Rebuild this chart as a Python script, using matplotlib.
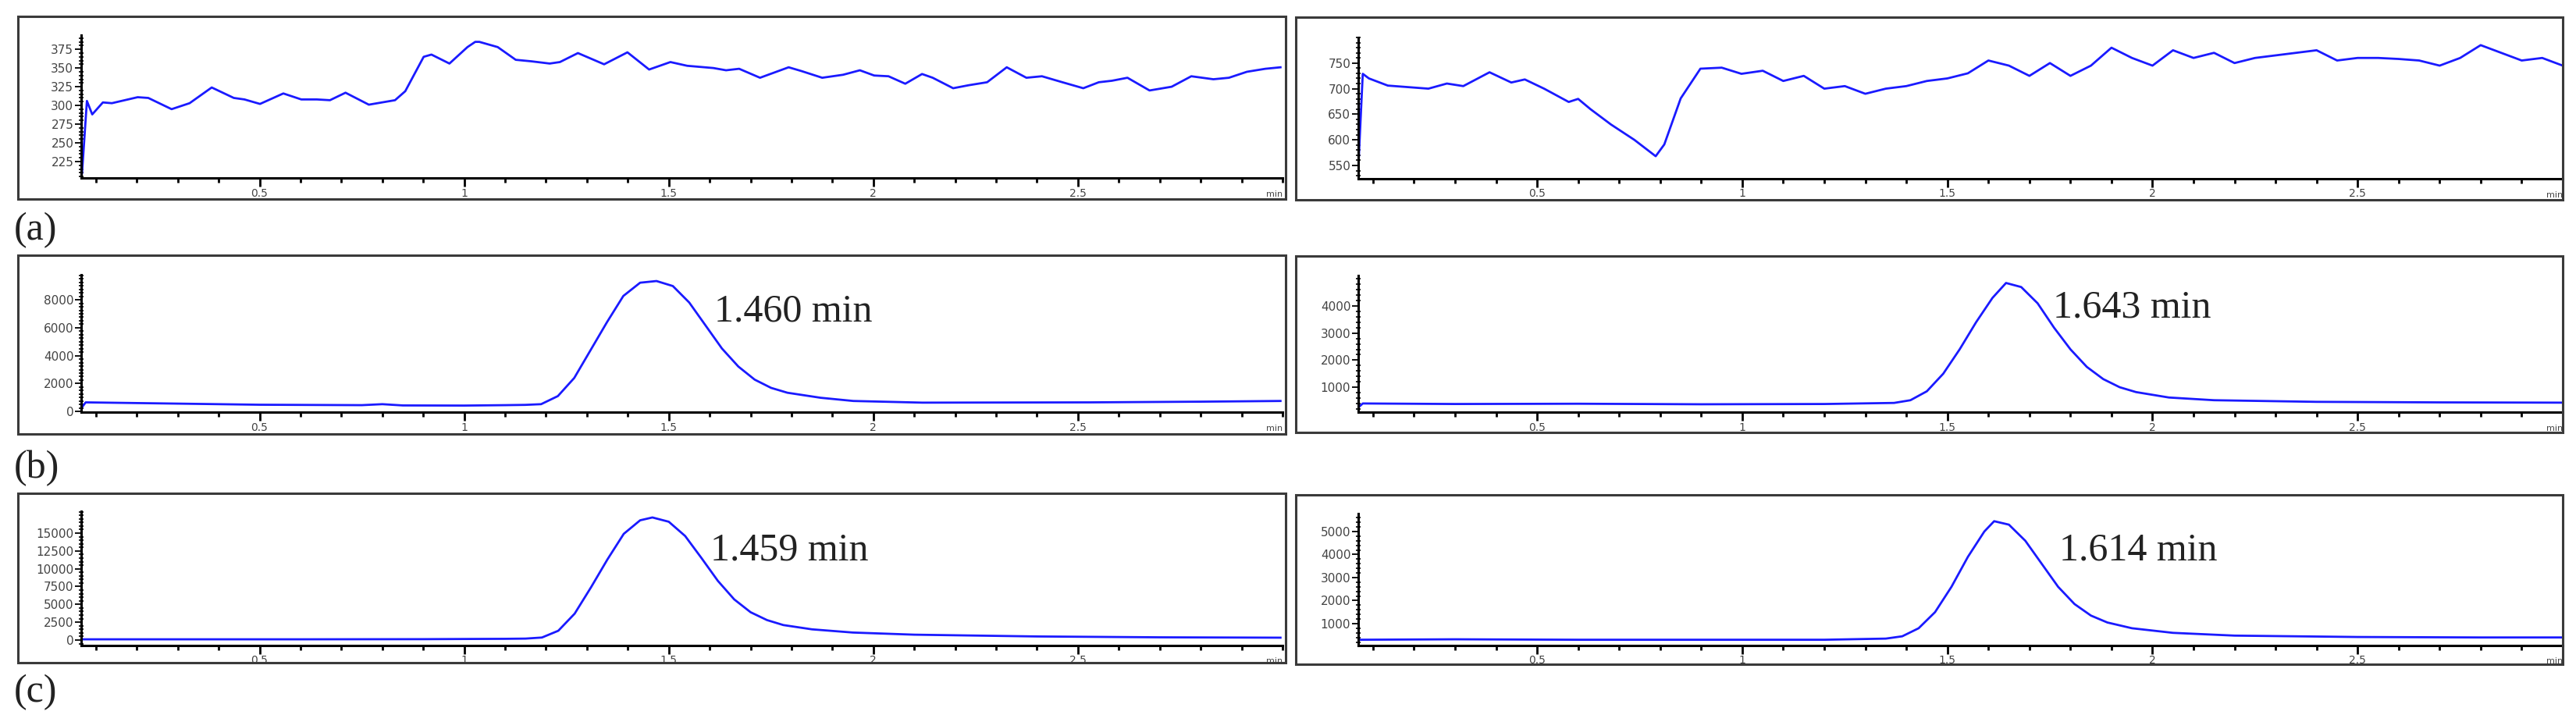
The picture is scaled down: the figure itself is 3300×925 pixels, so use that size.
import matplotlib.pyplot as plt
from matplotlib.ticker import FixedLocator, MultipleLocator
from matplotlib.patches import Rectangle

# ---- data (time in min, signal) ----
# (a) blank traces
a_left_t = [0.066, 0.078, 0.091, 0.117, 0.139, 0.202, 0.228, 0.285, 0.329, 0.383, 0.437, 0.463,
            0.501, 0.558, 0.602, 0.640, 0.672, 0.710, 0.767, 0.831, 0.856, 0.901, 0.920, 0.964,
            1.008, 1.027, 1.037, 1.082, 1.126, 1.164, 1.209, 1.234, 1.278, 1.342, 1.399, 1.452,
            1.504, 1.545, 1.609, 1.640, 1.672, 1.723, 1.793, 1.824, 1.875, 1.926, 1.967, 2.002,
            2.037, 2.078, 2.119, 2.145, 2.195, 2.233, 2.278, 2.326, 2.374, 2.412, 2.462, 2.513,
            2.551, 2.583, 2.621, 2.675, 2.729, 2.777, 2.831, 2.869, 2.913, 2.958, 2.995]
a_left_y = [209, 306, 288, 304, 303, 311, 310, 295, 303, 324, 310, 308,
            302, 316, 308, 308, 307, 317, 301, 307, 319, 365, 368, 356,
            378, 385, 385, 378, 361, 359, 356, 358, 370, 355, 371, 348,
            358, 353, 350, 347, 349, 337, 351, 346, 337, 341, 347, 340,
            339, 329, 342, 337, 323, 327, 331, 351, 337, 339, 331, 323,
            331, 333, 337, 320, 325, 339, 335, 337, 345, 349, 351]

a_right_t = [0.064, 0.075, 0.09, 0.136, 0.235, 0.28, 0.32, 0.384, 0.437, 0.47, 0.517, 0.577,
             0.6, 0.63, 0.68, 0.737, 0.789, 0.81, 0.85, 0.898, 0.95, 0.998, 1.05, 1.1,
             1.15, 1.2, 1.25, 1.3, 1.35, 1.4, 1.45, 1.5, 1.55, 1.6, 1.65, 1.7,
             1.75, 1.8, 1.85, 1.9, 1.95, 2.0, 2.05, 2.1, 2.15, 2.2, 2.25, 2.3,
             2.35, 2.4, 2.45, 2.5, 2.55, 2.6, 2.65, 2.7, 2.75, 2.8, 2.85, 2.9,
             2.95, 3.0]
a_right_y = [543, 729, 720, 706, 700, 710, 705, 732, 712, 718, 700, 674,
             680, 660, 630, 600, 568, 591, 681, 739, 741, 729, 735, 715,
             725, 700, 705, 690, 700, 705, 715, 720, 730, 755, 745, 725,
             750, 725, 745, 780, 760, 745, 775, 760, 770, 750, 760, 765,
             770, 775, 755, 760, 760, 758, 755, 745, 760, 785, 770, 755,
             760, 745]

# (b) peak traces
b_left_t = [0.066, 0.075, 0.3, 0.5, 0.75, 0.8, 0.85, 1.0, 1.1, 1.149, 1.188, 1.229,
            1.269, 1.309, 1.349, 1.389, 1.430, 1.470, 1.510, 1.550, 1.590, 1.630, 1.670,
            1.710, 1.750, 1.790, 1.871, 1.951, 2.12, 2.53, 2.8, 2.995]
b_left_y = [300, 650, 560, 480, 450, 520, 430, 420, 450, 470, 520, 1100,
            2400, 4400, 6400, 8280, 9230, 9350, 8990, 7810, 6160, 4510, 3220,
            2280, 1690, 1340, 980, 750, 630, 650, 700, 750]

b_right_t = [0.064, 0.075, 0.3, 0.6, 0.9, 1.2, 1.37, 1.41, 1.45, 1.49, 1.53, 1.57,
             1.61, 1.643, 1.68, 1.72, 1.76, 1.80, 1.84, 1.88, 1.92, 1.96, 2.04, 2.15,
             2.4, 2.7, 3.0]
b_right_y = [250, 400, 380, 390, 370, 380, 420, 520, 850, 1500, 2400, 3400,
             4300, 4850, 4700, 4100, 3200, 2400, 1750, 1300, 1000, 820, 620, 520,
             460, 440, 430]

# (c) peak traces
c_left_t = [0.066, 0.3, 0.6, 0.9, 1.1, 1.15, 1.19, 1.23, 1.27, 1.31, 1.35, 1.39,
            1.43, 1.46, 1.50, 1.54, 1.58, 1.62, 1.66, 1.70, 1.74, 1.78, 1.85, 1.95,
            2.1, 2.4, 2.7, 2.995]
c_left_y = [100, 100, 100, 120, 170, 200, 350, 1300, 3700, 7400, 11300, 14900,
            16800, 17200, 16600, 14600, 11500, 8300, 5700, 3900, 2800, 2100, 1500, 1050,
            750, 500, 380, 330]

c_right_t = [0.064, 0.3, 0.6, 0.9, 1.2, 1.35, 1.39, 1.43, 1.47, 1.51, 1.55, 1.59,
             1.614, 1.65, 1.69, 1.73, 1.77, 1.81, 1.85, 1.89, 1.95, 2.05, 2.2, 2.5,
             2.8, 3.0]
c_right_y = [300, 320, 300, 300, 300, 350, 450, 800, 1500, 2600, 3900, 5000,
             5450, 5300, 4600, 3600, 2600, 1850, 1350, 1050, 800, 600, 480, 420,
             400, 400]

peak_labels = ['1.460 min', '1.643 min', '1.459 min', '1.614 min']
panel_tags = ['(a)', '(b)', '(c)']
x_major = [0.5, 1, 1.5, 2, 2.5]
x_major_lbl = ['0.5', '1', '1.5', '2', '2.5']

W, H = 3300, 925
fig = plt.figure(figsize=(33, 9.25), dpi=100)


def fig_rect(x0, y0, x1, y1):
    # pixel box (top-left origin) -> figure fraction
    return [x0 / W, 1 - y1 / H, (x1 - x0) / W, (y1 - y0) / H]


def frame(x0, y0, x1, y1):
    fig.patches.append(Rectangle((x0 / W, 1 - y1 / H), (x1 - x0) / W, (y1 - y0) / H,
                                 transform=fig.transFigure, fill=False,
                                 edgecolor='#3a3a3a', lw=2.2))


def panel(box, axpos, t, y, ylim, yticks, yminor):
    frame(*box)
    ax = fig.add_axes(fig_rect(*axpos))
    ax.plot(t, y, color='#1a1aff', lw=2.0)
    ax.set_xlim(0.064, 3.0)
    ax.set_ylim(*ylim)
    for s in ['top', 'right']:
        ax.spines[s].set_visible(False)
    for s in ['left', 'bottom']:
        ax.spines[s].set_linewidth(2.2)
    ax.xaxis.set_major_locator(FixedLocator(x_major))
    ax.set_xticklabels(x_major_lbl)
    ax.xaxis.set_minor_locator(MultipleLocator(0.1))
    ax.yaxis.set_major_locator(FixedLocator(yticks))
    ax.yaxis.set_minor_locator(MultipleLocator(yminor))
    ax.tick_params(axis='x', which='major', length=8, width=2, labelsize=10,
                   pad=1, labelcolor='#444444')
    ax.tick_params(axis='x', which='minor', length=4, width=2)
    ax.tick_params(axis='y', which='major', length=6, width=1.3, labelsize=11,
                   pad=1, labelcolor='#444444')
    ax.tick_params(axis='y', which='minor', length=4, width=1.2, direction='inout')
    ax.text(1.0, -0.09, 'min', transform=ax.transAxes, ha='right', va='top',
            fontsize=8, color='#444444')
    ax.patch.set_alpha(0)
    return ax


serif = 'Liberation Serif'

panel((23, 21, 1647, 255), (104, 45, 1643, 228), a_left_t, a_left_y,
      (203, 394), [225, 250, 275, 300, 325, 350, 375], 5)
panel((1660, 22, 3283, 256), (1740, 48, 3283, 229), a_right_t, a_right_y,
      (524, 800), [550, 600, 650, 700, 750], 10)

ax = panel((23, 327, 1647, 556), (104, 352, 1643, 528), b_left_t, b_left_y,
           (-50, 9800), [0, 2000, 4000, 6000, 8000], 250)
ax.text(0.527, 0.733, peak_labels[0], transform=ax.transAxes, ha='left', va='center',
        fontsize=36, family=serif, color='#222222')
ax = panel((1660, 328, 3283, 554), (1740, 353, 3283, 528), b_right_t, b_right_y,
           (80, 5125), [1000, 2000, 3000, 4000], 200)
ax.text(0.577, 0.766, peak_labels[1], transform=ax.transAxes, ha='left', va='center',
        fontsize=36, family=serif, color='#222222')

ax = panel((23, 632, 1647, 849), (104, 655, 1643, 827), c_left_t, c_left_y,
           (-770, 18070), [0, 2500, 5000, 7500, 10000, 12500, 15000], 500)
ax.text(0.524, 0.709, peak_labels[2], transform=ax.transAxes, ha='left', va='center',
        fontsize=36, family=serif, color='#222222')
ax = panel((1660, 634, 3283, 851), (1740, 658, 3283, 827), c_right_t, c_right_y,
           (50, 5780), [1000, 2000, 3000, 4000, 5000], 200)
ax.text(0.582, 0.722, peak_labels[3], transform=ax.transAxes, ha='left', va='center',
        fontsize=36, family=serif, color='#222222')

for tag, yc in zip(panel_tags, [295, 600, 887]):
    fig.text(18 / W, 1 - yc / H, tag, ha='left', va='center', fontsize=36,
             family=serif, color='#222222')

fig.savefig('out.png', dpi=100)
